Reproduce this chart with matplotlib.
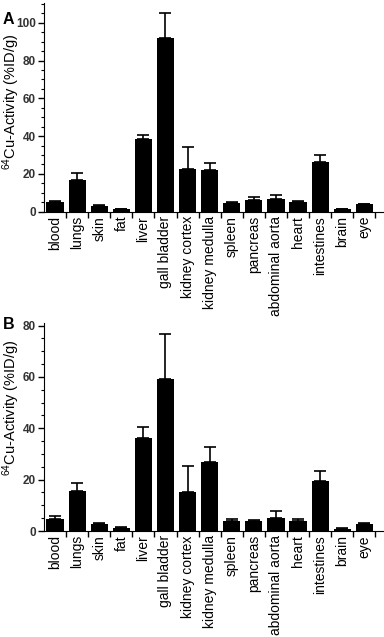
import numpy as np
import matplotlib.pyplot as plt
from matplotlib.ticker import MultipleLocator, FixedLocator

plt.rcParams['font.family'] = ['Liberation Sans', 'DejaVu Sans']
plt.rcParams['mathtext.fontset'] = 'custom'
plt.rcParams['mathtext.rm'] = 'Liberation Sans'
plt.rcParams['mathtext.it'] = 'Liberation Sans'

organs = ["blood", "lungs", "skin", "fat", "liver", "gall bladder", "kidney cortex",
          "kidney medulla", "spleen", "pancreas", "abdominal aorta", "heart",
          "intestines", "brain", "eye"]

# panel A
meanA = [5.3, 16.8, 3.2, 1.4, 38.4, 91.9, 22.6, 22.1, 4.8, 6.0, 6.9, 5.3, 26.2, 1.3, 3.9]
errA = [0.4, 3.5, 0.3, 0.2, 2.2, 13.2, 11.5, 3.5, 0.3, 1.6, 1.8, 0.4, 3.7, 0.2, 0.3]

# panel B
meanB = [4.7, 15.7, 2.6, 1.0, 36.4, 59.3, 15.3, 26.8, 3.8, 4.0, 5.2, 4.0, 19.5, 0.8, 2.7]
errB = [1.1, 2.9, 0.6, 0.6, 4.2, 17.6, 9.9, 5.8, 0.9, 0.2, 2.5, 0.7, 4.0, 0.2, 0.3]

fig = plt.figure(figsize=(3.84, 6.37), dpi=100)


def panel(rect, means, errs, ymax, letter, letter_y, label_y):
    ax = fig.add_axes(rect)
    x = np.arange(len(organs))
    ax.bar(x, means, width=0.78, color='black', zorder=2)
    ax.errorbar(x, means, yerr=[np.zeros(len(errs)), errs], fmt='none',
                ecolor='black', elinewidth=1.2, capsize=4, capthick=1.2, zorder=3)
    ax.set_xlim(-0.5, 14.85)
    ax.set_ylim(0, ymax)
    ax.spines['top'].set_visible(False)
    ax.spines['right'].set_visible(False)
    ax.yaxis.set_major_locator(MultipleLocator(20))
    ax.yaxis.set_minor_locator(MultipleLocator(5))
    ax.tick_params(axis='y', which='major', direction='out', length=4, width=1,
                   labelsize=8.5, labelcolor='#333333', pad=2)
    ax.tick_params(axis='y', which='minor', direction='out', length=2, width=0.8)
    for t in ax.get_yticklabels():
        t.set_fontweight('bold')
    ax.set_xticks(x)
    ax.set_xticklabels(organs, rotation=90, fontsize=10)
    ax.tick_params(axis='x', which='major', length=0, pad=3)
    ax.xaxis.set_minor_locator(FixedLocator(np.arange(0.5, 14.6, 1)))
    ax.tick_params(axis='x', which='minor', direction='out', length=4, width=1)
    ax.set_ylabel(r'$^{64}$Cu-Activity (%ID/g)', fontsize=10.5)
    ax.yaxis.set_label_coords(0.057, label_y, transform=fig.transFigure)
    fig.text(0.008, letter_y, letter, fontsize=11.5, fontweight='bold',
             va='top', ha='left')
    return ax


panel([0.1146, 0.6677, 0.883, 0.3276], meanA, errA, 110.5, 'A', 0.981, 0.84)
panel([0.1146, 0.1664, 0.883, 0.3265], meanB, errB, 81.0, 'B', 0.503, 0.36)

fig.savefig('out.png', dpi=100)
